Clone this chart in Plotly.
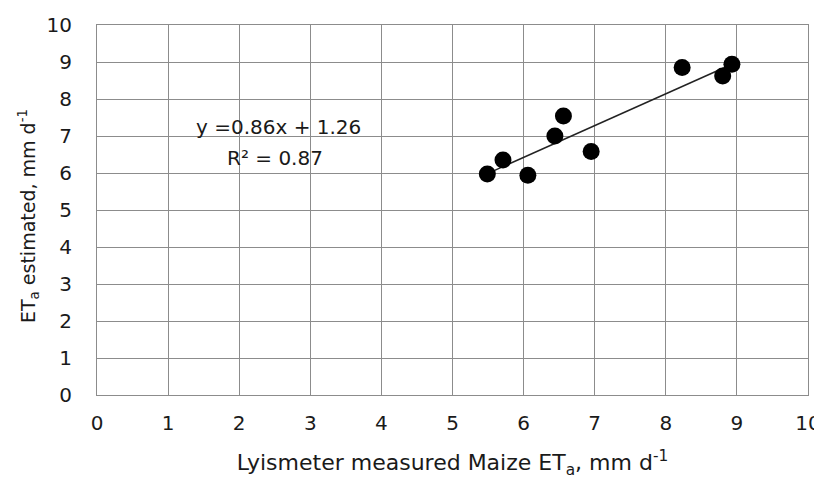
import plotly.graph_objects as go

# Data
x_measured = [5.49, 5.71, 6.06, 6.44, 6.56, 6.95, 8.23, 8.80, 8.93]
y_estimated = [5.97, 6.35, 5.94, 7.00, 7.54, 6.58, 8.85, 8.62, 8.94]
slope = 0.86
intercept = 1.26
r_squared = 0.87
tick_values = list(range(0, 11))

FONT = "DejaVu Sans"
TXT = "#1a1a1a"

trend_x = [min(x_measured), max(x_measured)]
trend_y = [slope * v + intercept for v in trend_x]

fig = go.Figure()
fig.add_trace(go.Scatter(x=trend_x, y=trend_y, mode="lines",
                         line=dict(color="#222222", width=1.5),
                         hoverinfo="skip", showlegend=False))
fig.add_trace(go.Scatter(x=x_measured, y=y_estimated, mode="markers",
                         marker=dict(color="black", size=17),
                         showlegend=False))

fig.add_annotation(x=0.255, y=0.724, xref="paper", yref="paper",
                   text=f"y ={slope:.2f}x + {intercept:.2f}",
                   showarrow=False, font=dict(family=FONT, size=20, color=TXT),
                   xanchor="center", yanchor="middle")
fig.add_annotation(x=0.25, y=0.641, xref="paper", yref="paper",
                   text=f"R² = {r_squared:.2f}",
                   showarrow=False, font=dict(family=FONT, size=20, color=TXT),
                   xanchor="center", yanchor="middle")

# y-axis title as a rotated annotation for precise placement
fig.add_annotation(x=0, y=0.5, xref="paper", yref="paper",
                   text="ET<sub>a</sub> estimated, mm d<sup>-1</sup>",
                   textangle=-90, showarrow=False, xshift=-69, yshift=-6,
                   font=dict(family=FONT, size=19, color=TXT),
                   xanchor="center", yanchor="middle")

axis_common = dict(range=[0, 10], tickvals=tick_values, showgrid=True,
                   gridcolor="#8c8c8c", gridwidth=1, zeroline=False,
                   showline=True, linecolor="#8c8c8c", linewidth=1, mirror=True,
                   ticks="", automargin=False,
                   tickfont=dict(family=FONT, size=20, color=TXT))

fig.update_xaxes(**axis_common,
                 title=dict(text="Lyismeter measured Maize ET<sub>a</sub>, mm d<sup>-1</sup>",
                            font=dict(family=FONT, size=22, color=TXT), standoff=20),
                 ticklabelstandoff=10)
fig.update_yaxes(**axis_common, ticklabelstandoff=20)

# page body has an 8px default margin, so the figure is offset by 8px
fig.update_layout(width=814, height=474,
                  margin=dict(l=89, r=14, t=17, b=87),
                  plot_bgcolor="white", paper_bgcolor="white",
                  font=dict(family=FONT))

fig.write_html("out.html")
